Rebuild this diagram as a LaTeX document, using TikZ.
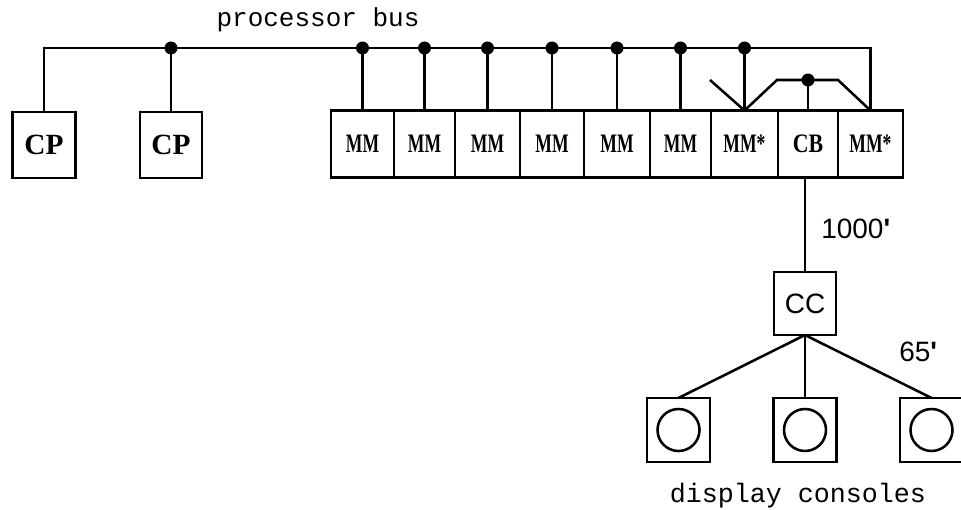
\documentclass[tikz,border=0pt]{standalone}
\usepackage{fontspec}
\setmainfont{Liberation Serif}
\newfontfamily\monofnt{Liberation Mono}
\newfontfamily\sansfnt{Liberation Sans}
\newfontfamily\mmfnt[FakeStretch=0.66]{Liberation Serif}
\newfontfamily\cbfnt[FakeStretch=0.82]{Liberation Serif}
\newcommand\tick{{\bfseries\char"0027}}
\begin{document}
\begin{tikzpicture}[x=0.75pt,y=-0.75pt,
  box/.style={draw,line width=2.1pt,inner sep=0pt,outer sep=0pt,minimum width=#1,minimum height=66*0.75pt},
  box/.default=63*0.75pt,
  mmbox/.style={draw,line width=2.1pt,inner sep=0pt,outer sep=0pt,minimum height=67*0.75pt,minimum width=#1,
     font=\mmfnt\bfseries\fontsize{20}{22}\selectfont},
  wire/.style={line width=1.9pt},
  dot/.style={circle,fill,inner sep=0pt,minimum size=13*0.75pt},
  lbl/.style={font=\sansfnt\fontsize{21}{23}\selectfont,inner sep=0pt,anchor=west},
  screen/.style={circle,draw,line width=1.9pt,minimum size=42*0.75pt,inner sep=0pt}
]
\clip (0,0) rectangle (961,510);
\useasboundingbox (0,0) rectangle (961,510);

% title
\node[font=\monofnt\fontsize{19.5}{21}\selectfont,anchor=base,inner sep=0pt] (title) at (318,27) {processor bus};

% CP boxes
\node[box,font=\bfseries\fontsize{22}{24}\selectfont] (cp1) at (44,145) {CP};
\node[box=62*0.75pt,font=\bfseries\fontsize{22}{24}\selectfont] (cp2) at (171,145) {CP};

% memory row
\node[mmbox=63*0.75pt] (mm1) at (362.5,144) {MM};
\node[mmbox=61*0.75pt] (mm2) at (424.5,144) {MM};
\node[mmbox=65*0.75pt] (mm3) at (487.5,144) {MM};
\node[mmbox=64*0.75pt] (mm4) at (552,144) {MM};
\node[mmbox=66*0.75pt] (mm5) at (617,144) {MM};
\node[mmbox=61*0.75pt] (mm6) at (680.5,144) {MM};
\node[mmbox=67*0.75pt] (mm7) at (744.5,144) {MM*};
\node[mmbox=60*0.75pt,font=\cbfnt\bfseries\fontsize{20}{22}\selectfont] (cb) at (808,144) {CB};
\node[mmbox=65*0.75pt] (mm9) at (870.5,144) {MM*};

% bus
\coordinate (busL) at (44,48);
\coordinate (busR) at (870.5,48);
\draw[wire] (cp1.north) -- (busL) -- (busR) -- (mm9.north);
\foreach \n in {cp2,mm1,mm2,mm3,mm4,mm5,mm6,mm7}{
  \draw[wire] (\n.north |- busL) -- (\n.north);
  \node[dot] at (\n.north |- busL) {};
}

% V and upper link
\coordinate (vfree) at (710,80);
\coordinate (bendA) at (777,80);
\coordinate (bendB) at (838,80);
\draw[wire] (vfree) -- (mm7.north) -- (bendA) -- (bendB) -- (mm9.north);
\draw[wire] (cb.north |- bendA) -- (cb.north);
\node[dot] at (cb.north |- bendA) {};

% CC
\node[box=62*0.75pt,minimum height=63*0.75pt,font=\sansfnt\fontsize{21}{23}\selectfont] (cc) at (805,303.5) {CC};
\draw[wire] (cc.north |- cb.south) -- (cc.north);
\node[lbl] (l1000) at (821,229) {1000\tick};

% consoles
\node[box,minimum height=64*0.75pt] (c1) at (678.5,430) {};
\node[box,minimum height=64*0.75pt] (c2) at (805,430) {};
\node[box,minimum height=64*0.75pt] (c3) at (931.5,430) {};
\foreach \n in {c1,c2,c3}{
  \node[screen] (\n s) at (\n.center) {};
  \draw[wire] (cc.south) -- (\n.north);
}
\node[lbl] (l65) at (899,352) {65\tick};

\node[font=\monofnt\fontsize{20}{22}\selectfont,anchor=base,inner sep=0pt] (disp) at (798,502) {display consoles};
\end{tikzpicture}
\end{document}
